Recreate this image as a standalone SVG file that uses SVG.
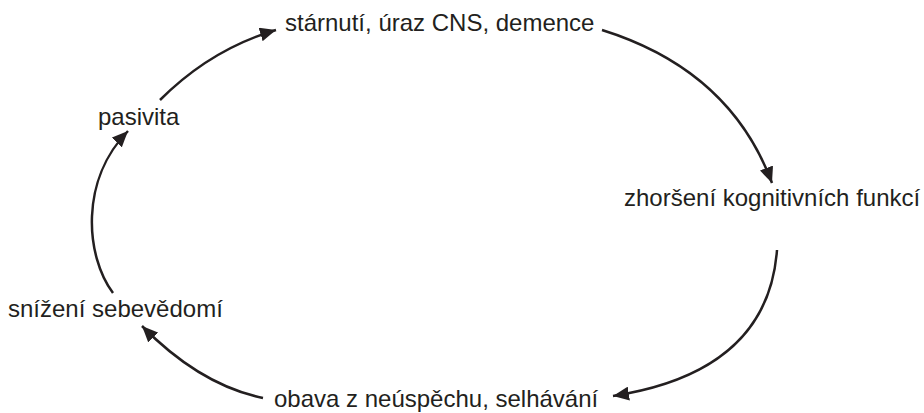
<svg xmlns="http://www.w3.org/2000/svg" width="924" height="413" viewBox="0 0 924 413">
<defs>
<style>
text{font-family:"Liberation Sans",Arial,sans-serif;font-size:24px;fill:#231f20}
.c{fill:none;stroke:#231f20;stroke-width:2.5}
</style>
<marker id="ah" markerUnits="userSpaceOnUse" markerWidth="17" markerHeight="14" refX="16" refY="7" orient="auto">
<path d="M0,0 L16,7 L0,14 z" fill="#231f20"/>
</marker>
</defs>
<rect width="924" height="413" fill="#fff"/>
<g id="n1"><text x="285" y="31">stárnutí, úraz CNS, demence</text></g>
<g id="n2"><text x="624" y="206">zhoršení kognitivních funkcí</text></g>
<g id="n3"><text x="274" y="407">obava z neúspěchu, selhávání</text></g>
<g id="n4"><text x="8" y="317">snížení sebevědomí</text></g>
<g id="n5"><text x="98" y="125">pasivita</text></g>
<g id="connectors">
<path class="c" d="M160,100 C195,65 235,42 276,30" marker-end="url(#ah)"/>
<path class="c" d="M602,30 Q730,70 772,183" marker-end="url(#ah)"/>
<path class="c" d="M777,250 Q768,372 613,396" marker-end="url(#ah)"/>
<path class="c" d="M263,398 Q200,385 142,326" marker-end="url(#ah)"/>
<path class="c" d="M113,293 C85,255 80,180 128,131" marker-end="url(#ah)"/>
</g>
</svg>
